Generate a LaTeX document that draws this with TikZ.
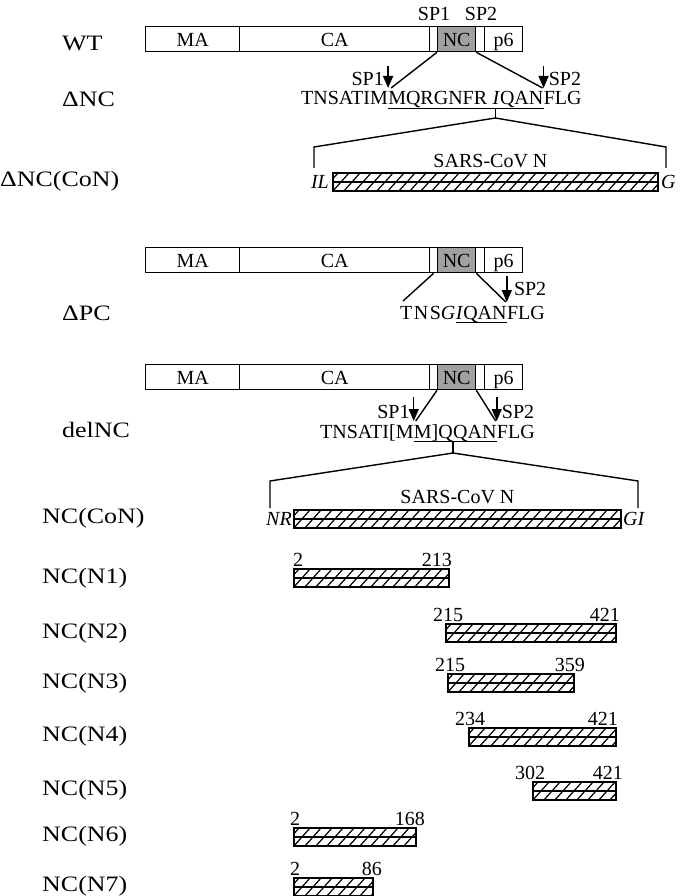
\documentclass[tikz,border=0pt]{standalone}
\usepackage{fontspec}
\setmainfont{Liberation Serif}
\newfontfamily\lblfont[FakeStretch=1.18]{Liberation Serif}
\usetikzlibrary{arrows.meta,calc}
\newcommand{\generow}[2]{%
  \node[seg, minimum width=94pt] (#2ma) at (145,#1) {MA};
  \node[seg, minimum width=190pt] (#2ca) at (239,#1) {CA};
  \node[seg, minimum width=8pt] (#2sa) at (429,#1) {};
  \node[ncseg, minimum width=38pt] (#2nc) at (437,#1) {NC};
  \node[seg, minimum width=9pt] (#2sb) at (475,#1) {};
  \node[seg, minimum width=38pt] (#2p) at (484,#1) {p6};
}
\begin{document}
\begin{tikzpicture}[x=1pt,y=-1pt,
  seg/.style={draw, line width=1.3pt, inner sep=0, minimum height=25pt, anchor=north west,
    text height=14pt, text depth=0pt, font=\fontsize{20}{24}\selectfont},
  ncseg/.style={seg, fill=black!37},
  txt/.style={inner sep=0, font=\fontsize{20}{24}\selectfont},
  lbl/.style={inner sep=0, anchor=west, font=\lblfont\fontsize{22}{26}\selectfont},
  num/.style={inner sep=0, font=\fontsize{20}{24}\selectfont},
  conn/.style={line width=1.4pt},
  uline/.style={line width=0.9pt},
  arr/.style={line width=1.5pt, -{Triangle[length=12pt,width=10pt]}},
  hatchbox/.style={draw, line width=1.9pt, inner sep=0, minimum height=18pt, anchor=north west,
    path picture={
      \foreach \k in {-2,...,40}{\draw[line width=1.2pt] ([xshift=\k*11pt]path picture bounding box.south west) -- ++(17pt,19pt);}
      \draw[line width=1.2pt] (path picture bounding box.west) -- (path picture bounding box.east);
    }}
]
\useasboundingbox (0,0) rectangle (681,896);

% ---------- row labels ----------
\node[lbl] (lWT) at (62,43) {WT};
\node[lbl] (lDNC) at (62,99) {ΔNC};
\node[lbl] (lDNCC) at (0,181) {ΔNC(CoN)};
\node[lbl] (lDPC) at (62,313) {ΔPC};
\node[lbl] (ldel) at (62,430) {delNC};
\node[lbl] (lNCC) at (42,518) {NC(CoN)};
\node[lbl] (lN1) at (42,578) {NC(N1)};
\node[lbl] (lN2) at (42,633) {NC(N2)};
\node[lbl] (lN3) at (42,683) {NC(N3)};
\node[lbl] (lN4) at (42,736) {NC(N4)};
\node[lbl] (lN5) at (42,790) {NC(N5)};
\node[lbl] (lN6) at (42,836) {NC(N6)};
\node[lbl] (lN7) at (42,886) {NC(N7)};

% ---------- WT ----------
\generow{26}{A}
\node[txt, anchor=base] (tsp1) at (434,21) {SP1};
\node[txt, anchor=base] (tsp2) at (481,21) {SP2};

% ---------- Delta NC ----------
\node[txt, anchor=base west] (a1) at (301,105) {TNSATIM};
\node[txt, anchor=base west] (a2) at (a1.base east) {MQRGNFR};
\node[txt, anchor=base west] (a3) at ([xshift=5pt]a2.base east) {\textit{I}QAN};
\node[txt, anchor=base west] (a4) at (a3.base east) {FLG};
\draw[uline] ([yshift=-3pt]a2.base west) -- ([yshift=-3pt]a3.base east);
\draw[arr] ([yshift=39pt]a2.base west) -- ([yshift=17pt]a2.base west);
\node[txt, anchor=base east] (asp1) at ([xshift=-4pt,yshift=19pt]a2.base west) {SP1};
\draw[arr] ([yshift=39pt]a4.base west) -- ([yshift=17pt]a4.base west);
\node[txt, anchor=base west] (asp2) at ([xshift=5pt,yshift=19pt]a4.base west) {SP2};
\draw[conn] (Anc.south west) -- ([xshift=3pt,yshift=17pt]a2.base west);
\draw[conn] (Anc.south east) -- ([xshift=-1pt,yshift=17pt]a4.base west);

% ---------- Delta NC(CoN) ----------
\coordinate (k1t) at ([xshift=3pt,yshift=-3pt]a3.base west);
\coordinate (k1) at ([xshift=3pt,yshift=-13pt]a3.base west);
\coordinate (k1l) at (314,147);
\coordinate (k1lb) at (314,168);
\coordinate (k1r) at (666,147);
\coordinate (k1rb) at (666,168);
\draw[conn] (k1t) -- (k1);
\draw[conn] (k1lb) -- (k1l) -- (k1) -- (k1r) -- (k1rb);
\node[hatchbox, minimum width=325pt] (cov1) at (332,172) {};
\node[txt, anchor=south] (cov1t) at ([xshift=-5pt,yshift=4pt]cov1.north) {SARS-CoV N};
\node[txt, anchor=east] (il) at ([xshift=-3pt]cov1.west) {\textit{IL}};
\node[txt, anchor=west] (g1) at ([xshift=2pt]cov1.east) {\textit{G}};

% ---------- Delta PC ----------
\generow{247}{C}
\node[txt, anchor=base west] (b1) at (400,319) {T\kern1.5pt N\kern1.5pt S\textit{G}};
\node[txt, anchor=base west] (b2) at (b1.base east) {\textit{I}QAN};
\node[txt, anchor=base west] (b3) at (b2.base east) {FLG};
\draw[uline] ([yshift=-3pt]b2.base west) -- ([yshift=-3pt]b2.base east);
\draw[conn] (Csa.south) -- ([xshift=3pt,yshift=18pt]b1.base west);
\draw[conn] (Cnc.south east) -- ([xshift=-1pt,yshift=17pt]b3.base west);
\draw[arr] ([yshift=43pt]b3.base west) -- ([yshift=17pt]b3.base west);
\node[txt, anchor=base west] (bsp2) at ([xshift=7pt,yshift=24pt]b3.base west) {SP2};

% ---------- delNC ----------
\generow{364}{D}
\node[txt, anchor=base west] (c1) at (320,438) {TNSATI[M};
\node[txt, anchor=base west] (c2) at (c1.base east) {M]Q};
\node[txt, anchor=base west] (c3) at (c2.base east) {QAN};
\node[txt, anchor=base west] (c4) at (c3.base east) {FLG};
\draw[uline] ([yshift=-3pt]c2.base west) -- ([yshift=-3pt]c3.base east);
\draw[arr] ([yshift=41pt]c2.base west) -- ([yshift=17pt]c2.base west);
\node[txt, anchor=base east] (csp1) at ([xshift=-4pt,yshift=20pt]c2.base west) {SP1};
\draw[arr] ([yshift=41pt]c4.base west) -- ([yshift=17pt]c4.base west);
\node[txt, anchor=base west] (csp2) at ([xshift=5pt,yshift=20pt]c4.base west) {SP2};
\draw[conn] (Dnc.south west) -- ([xshift=2pt,yshift=17pt]c2.base west);
\draw[conn] (Dnc.south east) -- ([xshift=-1pt,yshift=17pt]c4.base west);

% ---------- NC(CoN) ----------
\coordinate (k2t) at ([yshift=-4pt]c3.base west);
\coordinate (k2) at ([yshift=-15pt]c3.base west);
\coordinate (k2l) at (270,481);
\coordinate (k2lb) at (270,508);
\coordinate (k2r) at (638,481);
\coordinate (k2rb) at (638,508);
\draw[conn] (k2t) -- (k2);
\draw[conn] (k2lb) -- (k2l) -- (k2) -- (k2r) -- (k2rb);
\node[hatchbox, minimum width=327pt] (cov2) at (293,509) {};
\node[txt, anchor=south] (cov2t) at ([yshift=5pt]cov2.north) {SARS-CoV N};
\node[txt, anchor=east] (nr) at ([xshift=-1pt]cov2.west) {\textit{NR}};
\node[txt, anchor=west] (gi) at ([xshift=1pt]cov2.east) {\textit{GI}};

% ---------- fragments ----------
\node[hatchbox, minimum width=155pt] (n1) at (293,568) {};
\node[num, anchor=base west] (n1a) at (293,566) {2};
\node[num, anchor=base east] (n1b) at (452,566) {213};

\node[hatchbox, minimum width=170pt] (n2) at (445,623) {};
\node[num, anchor=base west] (n2a) at (433,621) {215};
\node[num, anchor=base east] (n2b) at (620,621) {421};

\node[hatchbox, minimum width=126pt] (n3) at (447,673) {};
\node[num, anchor=base west] (n3a) at (435,671) {215};
\node[num, anchor=base east] (n3b) at (585,671) {359};

\node[hatchbox, minimum width=147pt] (n4) at (468,727) {};
\node[num, anchor=base west] (n4a) at (455,725) {234};
\node[num, anchor=base east] (n4b) at (618,725) {421};

\node[hatchbox, minimum width=83pt] (n5) at (532,781) {};
\node[num, anchor=base west] (n5a) at (515,779) {302};
\node[num, anchor=base east] (n5b) at (623,779) {421};

\node[hatchbox, minimum width=122pt] (n6) at (293,827) {};
\node[num, anchor=base west] (n6a) at (290,825) {2};
\node[num, anchor=base east] (n6b) at (425,825) {168};

\node[hatchbox, minimum width=79pt] (n7) at (293,877) {};
\node[num, anchor=base west] (n7a) at (290,875) {2};
\node[num, anchor=base east] (n7b) at (382,875) {86};
\end{tikzpicture}
\end{document}
